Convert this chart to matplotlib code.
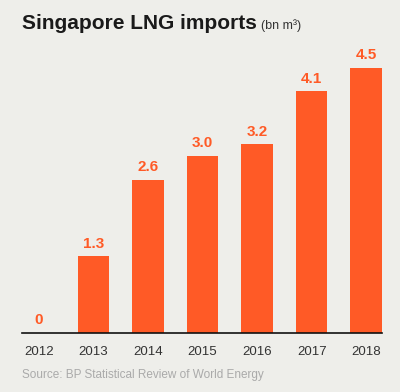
import matplotlib
matplotlib.use('Agg')
import matplotlib.pyplot as plt

# dados
years = ['2012', '2013', '2014', '2015', '2016', '2017', '2018']
imports = [0, 1.3, 2.6, 3.0, 3.2, 4.1, 4.5]
value_labels = ['0', '1.3', '2.6', '3.0', '3.2', '4.1', '4.5']

bg = '#eeeeea'
orange = '#ff5a26'
font = ['Liberation Sans', 'DejaVu Sans']

fig = plt.figure(figsize=(4, 3.92), dpi=100, facecolor=bg)
ax = fig.add_axes([0.055, 0.1505, 0.9, 0.7515], facecolor=bg)

x = range(len(years))
ax.bar(x, imports, width=0.58, color=orange)
for i, v in enumerate(imports):
    ax.text(i, v + 0.1, value_labels[i], ha='center', va='bottom',
            color=orange, fontsize=11, fontweight='bold', family=font)

ax.set_xlim(-0.31, 6.29)
ax.set_ylim(0, 5)
ax.set_xticks(list(x))
ax.set_xticklabels(years, family=font, fontsize=9.5, color='#333333')
ax.tick_params(axis='x', length=0, pad=9)
ax.set_yticks([])
for s in ['top', 'right', 'left']:
    ax.spines[s].set_visible(False)
ax.spines['bottom'].set_color('#111111')
ax.spines['bottom'].set_linewidth(1.2)

title = fig.text(0.055, 0.925, 'Singapore LNG imports', family=font, fontsize=15,
                 fontweight='bold', color='#1a1a1a', va='baseline')
# posiciona a unidade logo depois do título
fig.canvas.draw()
bb = title.get_window_extent().transformed(fig.transFigure.inverted())
fig.text(bb.x1 + 0.01, 0.925, '(bn m\u00b3)', family=font, fontsize=9,
         color='#333333', va='baseline')
fig.text(0.055, 0.035, 'Source: BP Statistical Review of World Energy',
         family=font, fontsize=8.5, color='#aaaaaa', va='baseline')

fig.savefig('out.png', dpi=100, facecolor=bg)
